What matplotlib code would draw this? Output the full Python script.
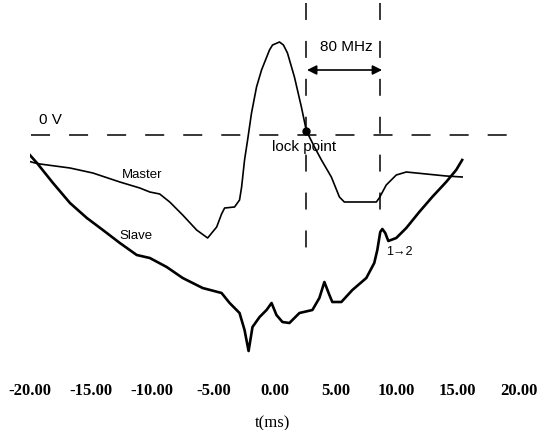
import matplotlib
matplotlib.use('Agg')
import matplotlib.pyplot as plt

# time axis in ms, signal in arbitrary volts (0 V = zero crossing)
master_t = [-20.16, -19.59, -19.18, -16.73, -14.86, -12.65, -11.02, -10.20, -9.39, -8.57,
            -7.51, -6.37, -5.47, -4.73, -4.33, -4.08, -3.27, -2.86, -2.69, -2.45,
            -2.20, -1.88, -1.47, -1.06, -0.41, -0.16, 0.41, 0.73, 1.06, 1.63,
            2.20, 2.61, 3.27, 3.84, 4.65, 5.31, 5.71, 6.94, 8.33, 8.57,
            9.14, 9.96, 10.78, 12.41, 14.04, 15.35]
master_v = [-0.26, -0.28, -0.29, -0.33, -0.38, -0.47, -0.53, -0.57, -0.59, -0.67,
            -0.80, -0.95, -1.03, -0.92, -0.79, -0.73, -0.72, -0.65, -0.52, -0.25,
            -0.05, 0.22, 0.48, 0.65, 0.85, 0.90, 0.93, 0.90, 0.82, 0.58,
            0.28, 0.04, -0.12, -0.25, -0.42, -0.62, -0.67, -0.67, -0.67, -0.63,
            -0.50, -0.40, -0.37, -0.39, -0.41, -0.42]

slave_t = [-20.16, -19.43, -18.12, -16.73, -15.35, -14.04, -12.65, -11.27, -10.20, -8.82,
           -7.51, -5.88, -4.33, -3.67, -2.86, -2.45, -2.12, -1.80, -1.22, -0.65,
           -0.24, 0.16, 0.65, 1.22, 2.04, 3.10, 3.67, 4.08, 4.49, 4.73,
           5.47, 6.37, 7.51, 8.16, 8.41, 8.65, 8.82, 9.06, 9.31, 9.96,
           10.78, 11.84, 12.90, 14.04, 14.86, 15.35]
slave_v = [-0.18, -0.28, -0.48, -0.68, -0.83, -0.95, -1.08, -1.20, -1.23, -1.32,
           -1.43, -1.53, -1.58, -1.68, -1.78, -1.95, -2.16, -1.92, -1.82, -1.75,
           -1.68, -1.80, -1.87, -1.88, -1.78, -1.75, -1.63, -1.47, -1.60, -1.67,
           -1.67, -1.55, -1.43, -1.28, -1.15, -0.97, -0.94, -0.98, -1.06, -1.03,
           -0.93, -0.77, -0.62, -0.47, -0.35, -0.25]

lock_t, lock_v = 2.61, 0.04
marker2_t = 8.6          # second dashed marker, 80 MHz away from the lock point
xticks = [-20, -15, -10, -5, 0, 5, 10, 15, 20]
xtick_labels = ['-20.00', '-15.00', '-10.00', '-5.00', '0.00', '5.00', '10.00', '15.00', '20.00']

plt.rcParams['lines.scale_dashes'] = False
sans = ['Liberation Sans', 'DejaVu Sans']

fig = plt.figure(figsize=(5.39, 4.30), dpi=100)
ax = fig.add_axes([30 / 539, 1 - 375 / 430, 489 / 539, 375 / 430])
ax.set_xlim(-20, 20)
ax.set_ylim(-2.40, 1.35)

# zero-volt reference and the two frequency markers
ax.plot([-19.88, 19.63], [0, 0], color='black', lw=1.1, dashes=(13.7, 13.7))
ax.plot([lock_t, lock_t], [1.32, -1.15], color='black', lw=1.1, dashes=(12.2, 15.1))
ax.plot([marker2_t, marker2_t], [1.32, -0.78], color='black', lw=1.1, dashes=(12.2, 15.1))

ax.plot(master_t, master_v, color='black', lw=1.2)
ax.plot(slave_t, slave_v, color='black', lw=1.9)
ax.plot([lock_t], [lock_v], 'o', color='black', ms=5)

ax.annotate('', xy=(lock_t + 0.05, 0.65), xytext=(marker2_t + 0.2, 0.65),
            arrowprops=dict(arrowstyle='<|-|>', color='black', lw=1.2,
                            mutation_scale=14, shrinkA=0, shrinkB=0))

ax.text(5.85, 0.88, '80 MHz', family=sans, fontsize=11, ha='center', va='center')
ax.text(-18.3, 0.15, '0 V', family=sans, fontsize=11, ha='center', va='center')
ax.text(2.45, -0.12, 'lock point', family=sans, fontsize=11, ha='center', va='center')
ax.text(-10.84, -0.40, 'Master', family=sans, fontsize=9.5, ha='center', va='center')
ax.text(-11.29, -1.01, 'Slave', family=sans, fontsize=9.5, ha='center', va='center')
ax.text(10.2, -1.17, '1\u21922', family=sans, fontsize=9, ha='center', va='center')

ax.set_xticks(xticks)
ax.set_xticklabels(xtick_labels, family='Liberation Serif', fontweight='bold', fontsize=12)
ax.tick_params(axis='x', length=0, pad=6)
ax.set_yticks([])
for s in ax.spines.values():
    s.set_visible(False)

fig.text(273 / 539, 1 - 423 / 430, 't(ms)', family='Liberation Serif', fontsize=12,
         ha='center', va='center')

fig.savefig('out.png', dpi=100)
